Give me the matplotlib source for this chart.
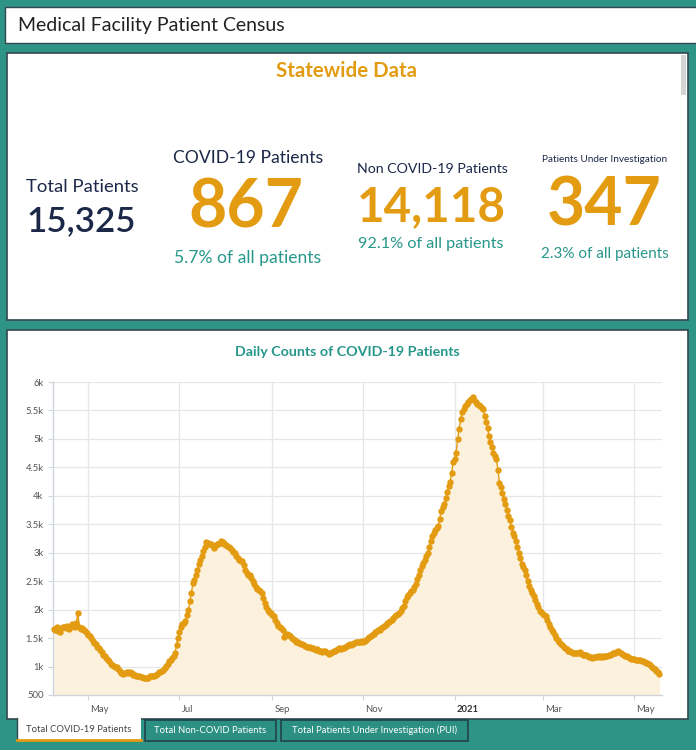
import numpy as np
import matplotlib
matplotlib.use("Agg")
import matplotlib.pyplot as plt
from matplotlib.patches import Rectangle
import matplotlib.transforms as mtransforms

plt.rcParams['font.family'] = ['Lato', 'DejaVu Sans']

# ---------------- data ----------------
start_date = '2020-04-08'
end_date = '2021-05-19'  # exclusive
covid_daily = [
    1660, 1640, 1690, 1620, 1600, 1680, 1700,
    1690, 1670, 1710, 1660, 1700, 1740, 1720,
    1690, 1760, 1940, 1700, 1660, 1680, 1640,
    1620, 1590, 1560, 1540, 1500, 1450, 1420,
    1390, 1350, 1320, 1290, 1250, 1210, 1180,
    1150, 1120, 1090, 1050, 1030, 1010, 1000,
    990, 960, 920, 880, 870, 880, 890,
    900, 890, 900, 880, 860, 850, 840,
    830, 830, 820, 810, 800, 800, 790,
    790, 840, 830, 830, 830, 850, 870,
    900, 910, 920, 940, 980, 1010, 1050,
    1090, 1120, 1150, 1190, 1230, 1380, 1500,
    1600, 1700, 1740, 1770, 1800, 1900, 2000,
    2150, 2300, 2460, 2520, 2600, 2700, 2800,
    2880, 2950, 3030, 3100, 3180, 3170, 3160,
    3150, 3130, 3090, 3120, 3150, 3160, 3170,
    3200, 3190, 3150, 3130, 3110, 3100, 3080,
    3050, 3020, 3000, 2950, 2900, 2870, 2860,
    2850, 2780, 2700, 2650, 2610, 2600, 2560,
    2500, 2450, 2400, 2370, 2350, 2320, 2300,
    2200, 2110, 2050, 2000, 1960, 1940, 1900,
    1880, 1820, 1760, 1720, 1700, 1680, 1650,
    1520, 1560, 1580, 1560, 1530, 1500, 1480,
    1460, 1440, 1430, 1420, 1400, 1400, 1380,
    1360, 1350, 1340, 1340, 1320, 1320, 1300,
    1290, 1300, 1280, 1280, 1260, 1270, 1270,
    1250, 1240, 1220, 1230, 1260, 1270, 1280,
    1290, 1310, 1320, 1300, 1330, 1330, 1340,
    1360, 1380, 1390, 1380, 1400, 1420, 1430,
    1440, 1440, 1430, 1450, 1440, 1450, 1470,
    1500, 1520, 1530, 1560, 1580, 1600, 1620,
    1640, 1650, 1670, 1700, 1710, 1735, 1760,
    1780, 1800, 1820, 1850, 1880, 1900, 1920,
    1940, 1980, 2020, 2060, 2150, 2230, 2260,
    2300, 2330, 2350, 2400, 2450, 2530, 2600,
    2700, 2760, 2820, 2880, 2950, 3000, 3100,
    3200, 3290, 3340, 3400, 3440, 3470, 3600,
    3730, 3800, 3850, 3970, 4070, 4170, 4250,
    4400, 4590, 4650, 4760, 5000, 5180, 5350,
    5470, 5530, 5580, 5620, 5640, 5680, 5700,
    5730, 5680, 5650, 5620, 5600, 5580, 5550,
    5520, 5400, 5300, 5200, 5050, 4940, 4850,
    4750, 4700, 4640, 4450, 4230, 4150, 4050,
    3940, 3850, 3750, 3650, 3580, 3460, 3350,
    3290, 3200, 3100, 3000, 2900, 2800, 2750,
    2700, 2600, 2500, 2410, 2350, 2300, 2240,
    2170, 2100, 2040, 1980, 1950, 1930, 1900,
    1880, 1820, 1750, 1700, 1650, 1600, 1550,
    1500, 1460, 1430, 1400, 1370, 1340, 1320,
    1300, 1280, 1270, 1250, 1235, 1240, 1240,
    1230, 1235, 1250, 1220, 1210, 1200, 1206,
    1180, 1170, 1160, 1150, 1160, 1170, 1170,
    1180, 1176, 1190, 1170, 1180, 1180, 1190,
    1200, 1210, 1220, 1230, 1240, 1250, 1270,
    1264, 1240, 1220, 1200, 1190, 1180, 1170,
    1150, 1140, 1130, 1130, 1120, 1120, 1110,
    1110, 1100, 1090, 1080, 1070, 1060, 1040,
    1020, 1000, 980, 960, 930, 900, 867,
]
yticks = [500, 1000, 1500, 2000, 2500, 3000, 3500, 4000, 4500, 5000, 5500, 6000]
ytick_labels = ['500', '1k', '1.5k', '2k', '2.5k', '3k', '3.5k', '4k', '4.5k', '5k', '5.5k', '6k']
xtick_dates = ['2020-05-01', '2020-07-01', '2020-09-01', '2020-11-01',
               '2021-01-01', '2021-03-01', '2021-05-01']
xtick_labels = ['May', 'Jul', 'Sep', 'Nov', '2021', 'Mar', 'May']

total_patients = '15,325'
covid_patients = '867'
non_covid_patients = '14,118'
pui_patients = '347'
covid_pct = '5.7% of all patients'
non_covid_pct = '92.1% of all patients'
pui_pct = '2.3% of all patients'
tabs = ['Total COVID-19 Patients', 'Total Non-COVID Patients',
        'Total Patients Under Investigation (PUI)']

# ---------------- style ----------------
TEAL_BG = '#2e9586'
TEAL_TXT = '#26978a'
ORANGE = '#e39c12'
NAVY = '#1c2848'
DARK = '#34474f'
FILL = '#fcf1dd'

W, H = 696, 750
fig = plt.figure(figsize=(W / 100, H / 100), dpi=100, facecolor=TEAL_BG)

bg = fig.add_axes([0, 0, 1, 1])
bg.set_xlim(0, W)
bg.set_ylim(H, 0)
bg.axis('off')
bg.set_zorder(0)

def px(size_px):
    return size_px / 100 * 72

# header
bg.add_patch(Rectangle((5, 7), 700, 36, facecolor='white', edgecolor=DARK, lw=1))
bg.text(18, 26, 'Medical Facility Patient Census', fontsize=px(19.5), color='#222222',
        ha='left', va='center')

# stats panel
bg.add_patch(Rectangle((7, 53), 681, 267, facecolor='white', edgecolor=DARK, lw=1.2))
bg.add_patch(Rectangle((681, 55), 5, 40, facecolor='#d4d4d4', edgecolor='none'))
bg.text(346, 71, 'Statewide Data', fontsize=px(20.5), color=ORANGE, fontweight='bold',
        ha='center', va='center')

bg.text(82, 187, 'Total Patients', fontsize=px(18.5), color=NAVY, ha='center', va='center')
bg.text(81, 221, total_patients, fontsize=px(35), color=NAVY, fontweight='semibold',
        ha='center', va='center')

bg.text(248, 158, 'COVID-19 Patients', fontsize=px(17.5), color=NAVY, ha='center', va='center')
bg.text(246, 209, covid_patients, fontsize=px(66), color=ORANGE, fontweight='bold',
        ha='center', va='center')
bg.text(248, 258, covid_pct, fontsize=px(17.5), color=TEAL_TXT, ha='center', va='center')

bg.text(432, 169, 'Non COVID-19 Patients', fontsize=px(14.1), color=NAVY, ha='center', va='center')
bg.text(431, 207, non_covid_patients, fontsize=px(47.5), color=ORANGE, fontweight='bold',
        ha='center', va='center')
bg.text(431, 244, non_covid_pct, fontsize=px(16.2), color=TEAL_TXT, ha='center', va='center')

bg.text(605, 159, 'Patients Under Investigation', fontsize=px(10), color=NAVY, ha='center', va='center')
bg.text(604, 206, pui_patients, fontsize=px(66), color=ORANGE, fontweight='bold',
        ha='center', va='center')
bg.text(605, 254, pui_pct, fontsize=px(15.2), color=TEAL_TXT, ha='center', va='center')

# chart panel
bg.add_patch(Rectangle((7, 330), 681, 389, facecolor='white', edgecolor=DARK, lw=1.2))
bg.text(347, 352, 'Daily Counts of COVID-19 Patients', fontsize=px(14.3), color=TEAL_TXT,
        fontweight='bold', ha='center', va='center')

# tabs
bg.add_patch(Rectangle((17, 717), 124, 23, facecolor='white', edgecolor='none', zorder=3))
bg.plot([17, 17], [718, 740], color=DARK, lw=1, zorder=4)
bg.plot([17, 141], [740, 740], color=ORANGE, lw=2, zorder=4)
bg.text(79, 730, tabs[0], fontsize=px(9.5), color='#444444', ha='center', va='center', zorder=5)
bg.add_patch(Rectangle((145, 720), 131, 21, facecolor='#2b9082', edgecolor='#21434a', lw=1.2, zorder=3))
bg.text(210.5, 730.5, tabs[1], fontsize=px(9.5), color='white', ha='center', va='center', zorder=5)
bg.add_patch(Rectangle((281, 720), 187, 21, facecolor='#2b9082', edgecolor='#21434a', lw=1.2, zorder=3))
bg.text(374.5, 730.5, tabs[2], fontsize=px(9.5), color='white', ha='center', va='center', zorder=5)

# ---------------- chart ----------------
left, right, top, bottom = 53.3, 662, 382, 695
ax = fig.add_axes([left / W, 1 - bottom / H, (right - left) / W, (bottom - top) / H])
ax.set_zorder(2)
ax.patch.set_alpha(0)

dates = np.arange(np.datetime64(start_date), np.datetime64(end_date))
vals = np.array(covid_daily, dtype=float)

ax.fill_between(dates, vals, 500, color=FILL, lw=0, zorder=1)
ax.plot(dates, vals, color=ORANGE, lw=1, marker='o', ms=4.6, mfc=ORANGE, mec=ORANGE,
        mew=0, zorder=3, clip_on=False)

x0 = np.datetime64('2020-05-01')
ax.set_xlim(matplotlib.dates.date2num(x0 - np.timedelta64(1, 'D')) - 22.4,
            matplotlib.dates.date2num(x0) + 383.7)
ax.set_ylim(500, 6000)

ax.set_yticks(yticks)
ax.set_yticklabels(ytick_labels)
ax.set_xticks([np.datetime64(d) for d in xtick_dates])
ax.set_xticklabels(xtick_labels)

ax.grid(True, color='#e6e6e6', lw=0.9, zorder=0)
ax.set_axisbelow(True)
for s in ['top', 'right']:
    ax.spines[s].set_visible(False)
ax.spines['left'].set_color('#cfd4dc')
ax.spines['bottom'].set_color('#cfd4dc')
ax.spines['left'].set_linewidth(1)
ax.spines['bottom'].set_linewidth(1)

ax.tick_params(axis='y', length=3.5, width=0.8, color='#cfd4dc', pad=3.5,
               labelsize=px(9.5), labelcolor='#555555')
ax.tick_params(axis='x', length=3.5, width=0.8, color='#cfd4dc', pad=3.5,
               labelsize=px(9.5), labelcolor='#555555')
offset = mtransforms.ScaledTranslation(2 / 100, 0, fig.dpi_scale_trans)
for i, lab in enumerate(ax.get_xticklabels()):
    lab.set_ha('left')
    lab.set_transform(lab.get_transform() + offset)
    if xtick_labels[i] == '2021':
        lab.set_fontweight('bold')
        lab.set_color('#333333')

fig.savefig('out.png', dpi=100, facecolor=TEAL_BG)
